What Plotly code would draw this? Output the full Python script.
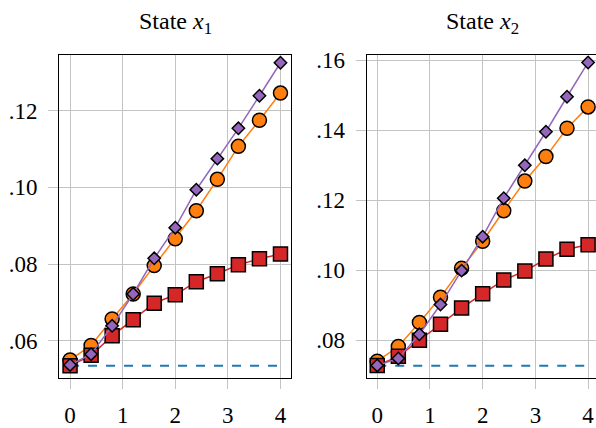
import plotly.graph_objects as go

# ---------------- data ----------------
x_steps = [0.0, 0.4, 0.8, 1.2, 1.6, 2.0, 2.4, 2.8, 3.2, 3.6, 4.0]

x1_circle = [0.0550, 0.0588, 0.0657, 0.0722, 0.0796, 0.0866, 0.0939, 0.1021, 0.1107, 0.1175, 0.1246]
x1_square = [0.0535, 0.0562, 0.0613, 0.0655, 0.0698, 0.0720, 0.0754, 0.0775, 0.0798, 0.0814, 0.0826]
x1_diamond = [0.0537, 0.0565, 0.0639, 0.0722, 0.0815, 0.0895, 0.0994, 0.1075, 0.1154, 0.1239, 0.1325]
x1_dashed = [0.0535, 0.0535]

x2_circle = [0.0740, 0.0782, 0.0851, 0.0923, 0.1006, 0.1083, 0.1170, 0.1255, 0.1325, 0.1406, 0.1467]
x2_square = [0.0728, 0.0754, 0.0800, 0.0846, 0.0892, 0.0933, 0.0972, 0.0998, 0.1032, 0.1060, 0.1073]
x2_diamond = [0.0728, 0.0748, 0.0817, 0.0902, 0.0999, 0.1096, 0.1206, 0.1300, 0.1396, 0.1496, 0.1594]
x2_dashed = [0.0727, 0.0727]
dashed_x = [0.0, 4.0]

x_tickvals = [0, 1, 2, 3, 4]
x_ticktext = ["0", "1", "2", "3", "4"]
y1_tickvals = [0.06, 0.08, 0.10, 0.12]
y1_ticktext = [".06", ".08", ".10", ".12"]
y2_tickvals = [0.08, 0.10, 0.12, 0.14, 0.16]
y2_ticktext = [".08", ".10", ".12", ".14", ".16"]
titles = ["State <i>x</i><sub>1</sub>", "State <i>x</i><sub>2</sub>"]

# ---------------- style ----------------
ORANGE = "#ff7f0e"
RED = "#d62728"
PURPLE = "#9467bd"
BLUE = "#1f77b4"
GRID = "#c4c4c4"
FONT = "Liberation Serif"

fig = go.Figure()


def add_panel(xa, ya, circ, sq, dia, dash):
    fig.add_trace(go.Scatter(x=dashed_x, y=dash, mode="lines",
                             line=dict(color=BLUE, width=2, dash="dash"),
                             xaxis=xa, yaxis=ya, showlegend=False))
    fig.add_trace(go.Scatter(x=x_steps, y=circ, mode="lines+markers",
                             line=dict(color=ORANGE, width=1.5),
                             marker=dict(symbol="circle", size=14, color=ORANGE,
                                         line=dict(color="black", width=1.5)),
                             xaxis=xa, yaxis=ya, showlegend=False))
    fig.add_trace(go.Scatter(x=x_steps, y=sq, mode="lines+markers",
                             line=dict(color=RED, width=1.5),
                             marker=dict(symbol="square", size=14, color=RED,
                                         line=dict(color="black", width=1.5)),
                             xaxis=xa, yaxis=ya, showlegend=False))
    fig.add_trace(go.Scatter(x=x_steps, y=dia, mode="lines+markers",
                             line=dict(color=PURPLE, width=1.5),
                             marker=dict(symbol="diamond", size=9.5, color=PURPLE,
                                         line=dict(color="black", width=1.5)),
                             xaxis=xa, yaxis=ya, showlegend=False))


add_panel("x", "y", x1_circle, x1_square, x1_diamond, x1_dashed)
add_panel("x2", "y2", x2_circle, x2_square, x2_diamond, x2_dashed)

W, H = 596, 428
ydom = [1 - 383 / H, 1 - 50 / H]

common_x = dict(tickvals=x_tickvals, ticktext=x_ticktext, showgrid=True,
                gridcolor=GRID, gridwidth=1, zeroline=False, ticks="outside",
                ticklen=10, tickcolor=GRID, tickwidth=1,
                tickfont=dict(family=FONT, size=23, color="black"),
                ticklabelstandoff=6,
                showline=True, linecolor="black", linewidth=1, mirror=True)
common_y = dict(showgrid=True, gridcolor=GRID, gridwidth=1, zeroline=False,
                ticks="outside", ticklen=10, tickcolor=GRID, tickwidth=1,
                tickfont=dict(family=FONT, size=23, color="black"),
                ticklabelstandoff=6,
                showline=True, linecolor="black", linewidth=1, domain=ydom)

fig.update_layout(
    width=W, height=H,
    margin=dict(l=0, r=0, t=0, b=0),
    paper_bgcolor="white", plot_bgcolor="white",
    xaxis=dict(common_x, domain=[59 / W, 291 / W], range=[-0.21, 4.2], anchor="y"),
    yaxis=dict(common_y, range=[0.0502, 0.1344], tickvals=y1_tickvals,
               ticktext=y1_ticktext, mirror=True, anchor="x"),
    xaxis2=dict(common_x, domain=[366.7 / W, 1.0], range=[-0.2, 4.15], anchor="y2"),
    yaxis2=dict(common_y, range=[0.0691, 0.1614], tickvals=y2_tickvals,
                ticktext=y2_ticktext, mirror=False, anchor="x2"),
)

for i, t in enumerate(titles):
    fig.add_annotation(text=t, xref="x" if i == 0 else "x2", x=2,
                       yref="paper", y=1 - 16 / H, yanchor="middle",
                       showarrow=False,
                       font=dict(family=FONT, size=24, color="black"))

fig.write_html("out.html")
